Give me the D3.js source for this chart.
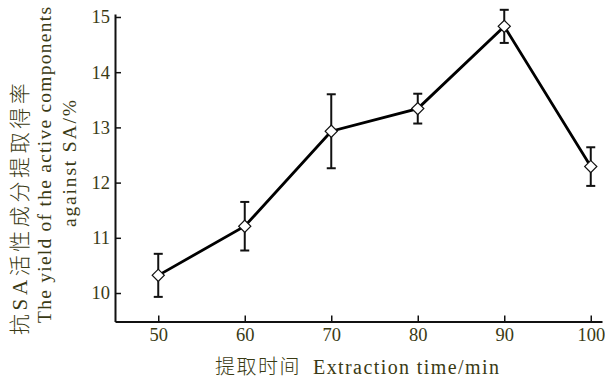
<!DOCTYPE html>
<html>
<head>
<meta charset="utf-8">
<script src="https://cdn.jsdelivr.net/npm/d3@7"></script>
<style>
  body { margin: 0; background: #fff; }
  text { font-family: "Liberation Serif", "Times New Roman", serif; fill: #3a3a14; }
  .cjk { font-family: "Noto Sans CJK SC", sans-serif; font-weight: 300; }
</style>
</head>
<body>
<div id="chart"></div>
<script>
// extraction time (min) vs yield of anti-SA active components (%)
const times = [50, 60, 70, 80, 90, 100];
const yields = [10.32, 11.21, 12.93, 13.34, 14.83, 12.29];
const errors = [0.39, 0.44, 0.67, 0.27, 0.30, 0.35];
const xTicks = [50, 60, 70, 80, 90, 100];
const yTicks = [10, 11, 12, 13, 14, 15];

const width = 605, height = 383;

const svg = d3.select("#chart")
    .append("svg")
    .attr("width", width)
    .attr("height", height);

const x = d3.scaleLinear().domain([45, 101.3]).range([115, 602]);
const y = d3.scaleLinear().domain([9.484, 15.054]).range([321.5, 14]);

// axes, ticks point inward
const xAxis = svg.append("g")
    .attr("transform", `translate(0,${y.range()[0]})`)
    .call(d3.axisBottom(x).tickValues(xTicks).tickFormat(d3.format("d"))
        .tickSizeInner(-6).tickSizeOuter(0).tickPadding(6));

const yAxis = svg.append("g")
    .attr("transform", `translate(${x.range()[0]},0)`)
    .call(d3.axisLeft(y).tickValues(yTicks).tickFormat(d3.format("d"))
        .tickSizeInner(-6).tickSizeOuter(0).tickPadding(5));

[xAxis, yAxis].forEach(g => {
    g.attr("font-family", "Liberation Serif, serif").attr("font-size", 18.5);
    g.select(".domain").attr("stroke", "#111").attr("stroke-width", 2);
    g.selectAll(".tick line").attr("stroke", "#111").attr("stroke-width", 1.5);
    g.selectAll(".tick text").attr("fill", "#3a3a14");
});

const data = times.map((t, i) => ({ t: t, v: yields[i], e: errors[i] }));

// error bars
const eb = svg.append("g")
    .attr("stroke", "#111")
    .attr("stroke-width", 2);

eb.selectAll(".stem")
    .data(data)
    .join("line")
    .attr("x1", d => x(d.t)).attr("x2", d => x(d.t))
    .attr("y1", d => y(d.v - d.e)).attr("y2", d => y(d.v + d.e));

eb.selectAll(".capTop")
    .data(data)
    .join("line")
    .attr("x1", d => x(d.t) - 4.5).attr("x2", d => x(d.t) + 4.5)
    .attr("y1", d => y(d.v + d.e)).attr("y2", d => y(d.v + d.e));

eb.selectAll(".capBot")
    .data(data)
    .join("line")
    .attr("x1", d => x(d.t) - 4.5).attr("x2", d => x(d.t) + 4.5)
    .attr("y1", d => y(d.v - d.e)).attr("y2", d => y(d.v - d.e));

// line
svg.append("path")
    .datum(data)
    .attr("fill", "none")
    .attr("stroke", "#000")
    .attr("stroke-width", 2.8)
    .attr("d", d3.line().x(d => x(d.t)).y(d => y(d.v)));

// diamond markers
svg.append("g")
    .selectAll("path")
    .data(data)
    .join("path")
    .attr("d", d3.symbol(d3.symbolSquare, 74))
    .attr("transform", d => `translate(${x(d.t)},${y(d.v)}) rotate(45)`)
    .attr("fill", "#fff")
    .attr("stroke", "#111")
    .attr("stroke-width", 1.2);

// x axis title
svg.append("text")
    .attr("class", "cjk")
    .attr("x", 215).attr("y", 374)
    .style("font-size", "20px")
    .style("letter-spacing", "1.5px")
    .text("提取时间");

svg.append("text")
    .attr("x", 313).attr("y", 374)
    .attr("textLength", 186).attr("lengthAdjust", "spacing")
    .style("font-size", "20px")
    .text("Extraction time/min");

// y axis title, three rotated lines
const cn = svg.append("text")
    .attr("transform", "translate(27,335) rotate(-90)")
    .style("font-size", "21px")
    .style("letter-spacing", "3.6px");
cn.append("tspan").attr("class", "cjk").text("抗");
cn.append("tspan").text("SA");
cn.append("tspan").attr("class", "cjk").text("活性成分提取得率");

const enLines = [
    { txt: "The yield of the active components", bx: 51, start: 323, len: 316 },
    { txt: "against SA/%", bx: 76, start: 227, len: 127 }
];

svg.append("g")
    .selectAll("text")
    .data(enLines)
    .join("text")
    .attr("transform", d => `translate(${d.bx},${d.start}) rotate(-90)`)
    .attr("textLength", d => d.len)
    .attr("lengthAdjust", "spacing")
    .style("font-size", "19.5px")
    .text(d => d.txt);
</script>
</body>
</html>
